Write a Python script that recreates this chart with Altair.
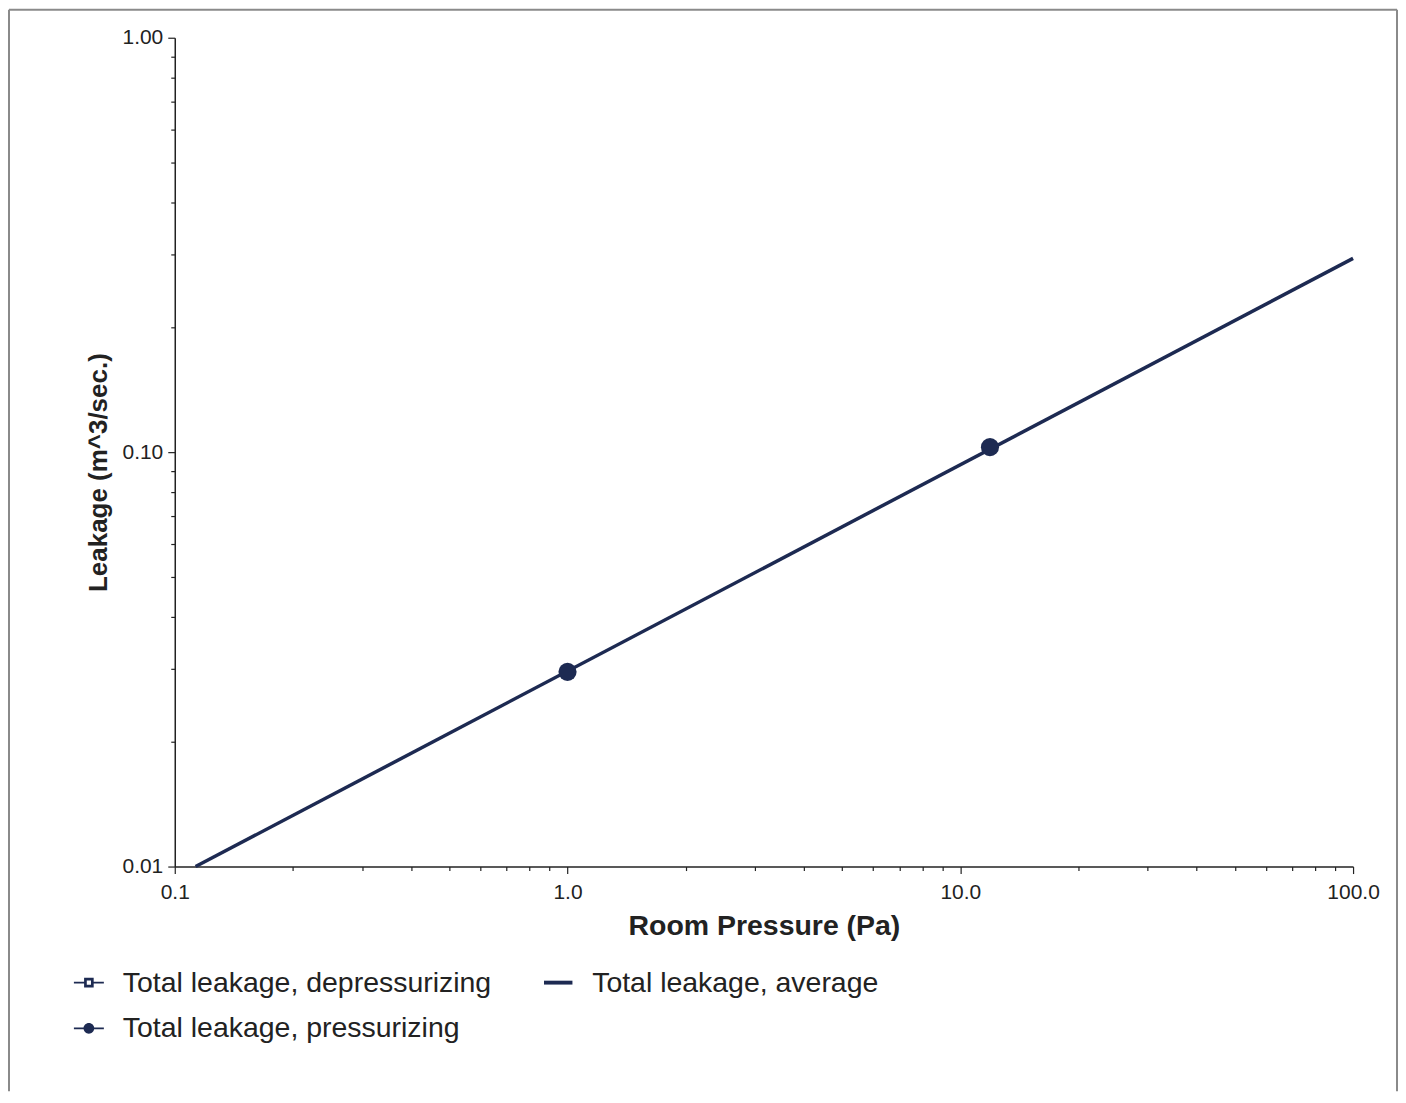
import altair as alt
import pandas as pd

# ---- data ----
# legend order (column-major fill): depressurizing, pressurizing | average
series_names = [
    "Total leakage, depressurizing",
    "Total leakage, pressurizing",
    "Total leakage, average",
]
press_pressure = [1.0, 11.9]
press_leakage = [0.0295, 0.1028]
avg_pressure = [0.113, 100.0]
avg_leakage = [0.01, 0.2935]

x_major = [0.1, 1, 10, 100]
x_ticks = [0.1, 0.2, 0.3, 0.4, 0.5, 0.6, 0.7, 0.8, 0.9,
           1, 2, 3, 4, 5, 6, 7, 8, 9,
           10, 20, 30, 40, 50, 60, 70, 80, 90, 100]
y_major = [0.01, 0.1, 1]
y_ticks = [0.01, 0.02, 0.03, 0.04, 0.05, 0.06, 0.07, 0.08, 0.09,
           0.1, 0.2, 0.3, 0.4, 0.5, 0.6, 0.7, 0.8, 0.9, 1]

NAVY = "#1d2a52"
INK = "#222222"
FONT = "Liberation Sans"

# legend symbol paths (unit box -1..1), drawn with fill only
sym_depress = ("M-1,-0.06H-0.3V0.06H-1Z"
               "M0.3,-0.06H1V0.06H0.3Z"
               "M-0.32,-0.32H0.32V0.32H-0.32Z"
               "M-0.14,-0.14V0.14H0.14V-0.14Z")
sym_average = "M-0.95,-0.13H0.95V0.13H-0.95Z"
sym_press = ("M-1,-0.06H1V0.06H-1Z"
             "M0.36,0A0.36,0.36,0,1,1,-0.36,0A0.36,0.36,0,1,1,0.36,0Z")
sym_paths = [sym_depress, sym_press, sym_average]

line_df = pd.DataFrame({"p": avg_pressure, "q": avg_leakage})
pts_df = pd.DataFrame({"p": press_pressure, "q": press_leakage})
leg_df = pd.DataFrame({"series": series_names,
                       "p": [None] * 3, "q": [None] * 3})

def major_test(vals):
    return "indexof([" + ",".join(str(v) for v in vals) + "], datum.value) >= 0"

x_scale = alt.Scale(type="log", domain=[0.1, 100], nice=False)
y_scale = alt.Scale(type="log", domain=[0.01, 1], nice=False)

x_axis = alt.Axis(
    title="Room Pressure (Pa)",
    values=x_ticks,
    labelExpr=major_test(x_major) + " ? format(datum.value, '.1f') : ''",
    tickSize={"condition": {"test": major_test(x_major), "value": 7}, "value": 4},
    labelOverlap=False,
    labelFlush=False,
    labelPadding=8,
    titlePadding=9,
    titleFontSize=28.5,
    grid=False,
)
y_axis = alt.Axis(
    title="Leakage (m^3/sec.)",
    values=y_ticks,
    labelExpr=major_test(y_major) + " ? format(datum.value, '.2f') : ''",
    tickSize={"condition": {"test": major_test(y_major), "value": 7}, "value": 4},
    labelOverlap=False,
    labelFlush=False,
    labelPadding=5,
    titlePadding=10,
    titleFontSize=26,
    titleY=435,
    grid=False,
)

X = alt.X("p:Q", scale=x_scale, axis=x_axis)
Y = alt.Y("q:Q", scale=y_scale, axis=y_axis)

line = alt.Chart(line_df).mark_line(color=NAVY, strokeWidth=3.5).encode(x=X, y=Y)
points = alt.Chart(pts_df).mark_point(
    filled=True, color=NAVY, size=330, opacity=1, shape="circle"
).encode(x="p:Q", y="q:Q")

legend_layer = alt.Chart(leg_df).mark_point(
    filled=True, color=NAVY, opacity=0
).encode(
    x="p:Q",
    y="q:Q",
    shape=alt.Shape(
        "series:N",
        sort=series_names,
        scale=alt.Scale(domain=series_names, range=sym_paths),
        legend=alt.Legend(
            title=None,
            orient="none",
            legendX=-101,
            legendY=931,
            columns=2,
            symbolSize=900,
            symbolStrokeWidth=0,
            symbolFillColor=NAVY,
            symbolOpacity=1,
            labelFont=FONT,
            labelFontSize=28.5,
            labelColor=INK,
            labelOffset=19,
            labelLimit=1000,
            columnPadding=51,
            rowPadding=16,
        ),
    ),
)

frame_df = pd.DataFrame({"k": [0]})
frame_left = alt.Chart(frame_df).mark_rule(color="#8a8a8a", strokeWidth=2).encode(
    x=alt.value(-166), y=alt.value(-28), y2=alt.value(1055))
frame_right = alt.Chart(frame_df).mark_rule(color="#8a8a8a", strokeWidth=2).encode(
    x=alt.value(1224), y=alt.value(-28), y2=alt.value(1055))
frame_top = alt.Chart(frame_df).mark_rule(color="#8a8a8a", strokeWidth=2).encode(
    x=alt.value(-166), x2=alt.value(1224), y=alt.value(-28))

chart = alt.layer(
    frame_left, frame_right, frame_top, line, points, legend_layer
).properties(
    width=1180, height=830, padding=0, background="white"
).configure_view(
    stroke=None
).configure_axis(
    domainColor=INK,
    domainWidth=1.5,
    tickColor=INK,
    tickWidth=1.2,
    labelColor=INK,
    labelFont=FONT,
    labelFontSize=21,
    titleColor=INK,
    titleFont=FONT,
    titleFontWeight="bold",
)

chart.save("out.html", embed_options={"renderer": "svg", "actions": False})
